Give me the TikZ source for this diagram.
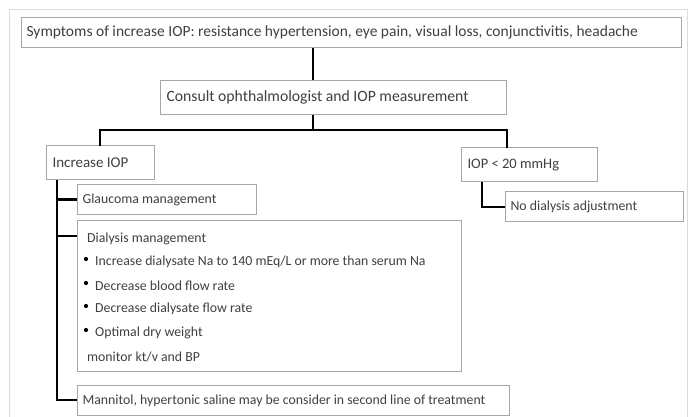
\documentclass[tikz,border=0pt]{standalone}
\usepackage{fontspec}
\setmainfont{Carlito}
\newcommand{\lb}[2]{\makebox[#1][l]{#2}}
\begin{document}
\begin{tikzpicture}[x=1pt,y=-1pt,
  box/.style={draw=boxgray, line width=1.1pt, inner xsep=6pt, inner ysep=0pt, anchor=north west, text=txt, font=\fontsize{13.8}{16}\selectfont},
  lbl/.style={anchor=west, inner sep=0pt, text=txt, font=\fontsize{13.8}{16}\selectfont},
  conn/.style={draw=black, line width=2.6pt},
  dot/.style={circle, fill=black, inner sep=0pt, minimum size=4.2pt}]
\definecolor{boxgray}{HTML}{A6A6A6}
\definecolor{framegray}{HTML}{DCDCDC}
\definecolor{txt}{HTML}{404040}
\useasboundingbox (0,0) rectangle (693,416);
\fill[white] (0,0) rectangle (693,416);
\draw[framegray, line width=0.8pt] (9,430) -- (9,9.5) -- (687,9.5) -- (687,430);
% boxes
\node[box, minimum height=30pt, inner xsep=5pt, font=\fontsize{15.5}{18}\selectfont] (top) at (21,17) {\lb{650pt}{Symptoms of increase IOP: resistance hypertension, eye pain, visual loss, conjunctivitis, headache}};
\node[box, minimum height=34pt, font=\fontsize{15.7}{18}\selectfont] (consult) at (160,80) {\lb{334pt}{Consult ophthalmologist and IOP measurement}};
\node[box, minimum height=34pt, font=\fontsize{15}{17}\selectfont] (inc) at (46,145) {\lb{96pt}{Increase IOP}};
\node[box, minimum height=34pt, font=\fontsize{14.5}{17}\selectfont] (iop) at (461,147) {\lb{124pt}{IOP < 20 mmHg}};
\node[box, minimum height=30pt, inner xsep=5pt] (glau) at (77,184) {\lb{169pt}{Glaucoma management}};
\node[box, minimum height=30pt, inner xsep=5pt] (nod) at (505,191) {\lb{168pt}{No dialysis adjustment}};
\node[box, minimum width=384pt, minimum height=151pt] (dial) at (77,220) {};
\node[box, minimum height=30pt, inner xsep=5pt] (mann) at (77,385) {\lb{422pt}{Mannitol, hypertonic saline may be consider in second line of treatment}};
% dialysis content
\node[lbl] (dm) at (87,239) {Dialysis management};
\node[dot] (b1) at (86,259) {};
\node[lbl] (t1) at (95,262) {Increase dialysate Na to 140 mEq/L or more than serum Na};
\node[dot] (b2) at (86,283) {};
\node[lbl] (t2) at (95,286) {Decrease blood flow rate};
\node[dot] (b3) at (86,306) {};
\node[lbl] (t3) at (95,309) {Decrease dialysate flow rate};
\node[dot] (b4) at (86,330) {};
\node[lbl] (t4) at (95,333) {Optimal dry weight};
\node[lbl] (mon) at (87,357) {monitor kt/v and BP};
% connectors
\coordinate (j0) at (313,130);
\coordinate (jl) at (100,130);
\coordinate (jr) at (507,130);
\coordinate (tl) at (57,400);
\coordinate (tr) at (482,207);
\coordinate (dj) at (57,236);
\draw[conn] (top.south -| j0) -- (consult.north -| j0);
\draw[conn] (consult.south -| j0) -- (j0);
\draw[conn, line cap=rect] (inc.north -| jl) -- (jl) -- (jr) -- (iop.north -| jr);
\draw[conn] (inc.south -| tl) -- (tl) -- (mann.west |- tl);
\draw[conn] (glau.west -| tl) -- (glau.west);
\draw[conn] (dj) -- (dial.west |- dj);
\draw[conn] (iop.south -| tr) -- (tr) -- (nod.west |- tr);
\end{tikzpicture}
\end{document}
